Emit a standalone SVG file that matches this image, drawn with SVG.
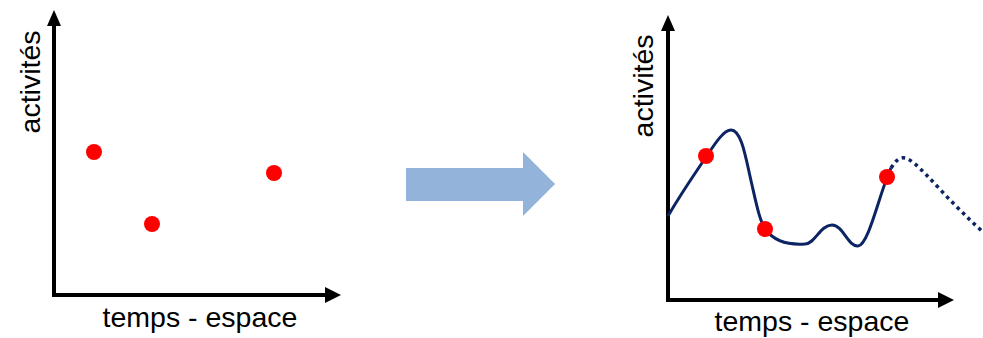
<svg xmlns="http://www.w3.org/2000/svg" width="983" height="338" viewBox="0 0 983 338">
<style>
.axis{stroke:#000;stroke-width:4;fill:none}
.head{fill:#000}
.lbl{font-family:"Liberation Sans",Arial,sans-serif;font-size:28.5px;fill:#000}
.dot{fill:#ff0000}
.curve{stroke:#0c2463;stroke-width:3;fill:none}
.dotted{stroke:#0c2463;stroke-width:3.5;fill:none;stroke-dasharray:3.5 4}
</style>
<g id="left-chart">
<polyline class="axis" points="54,24 54,295 327,295"/>
<polygon class="head" points="54,10 47,26 61,26"/>
<polygon class="head" points="341,295 325,287 325,303"/>
<text class="lbl" transform="translate(40,82) rotate(-90)" text-anchor="middle">activités</text>
<text class="lbl" x="200" y="327" text-anchor="middle">temps - espace</text>
<circle class="dot" cx="94" cy="152" r="8"/>
<circle class="dot" cx="152" cy="224" r="8"/>
<circle class="dot" cx="274" cy="173" r="8"/>
</g>
<g id="transition-arrow">
<polygon points="406,168 523,168 523,152 555,184 523,216 523,201 406,201" fill="#93B3DB"/>
</g>
<g id="right-chart">
<polyline class="axis" points="668,29 668,300 940,300"/>
<polygon class="head" points="668,15 661,31 675,31"/>
<polygon class="head" points="954,300 938,292 938,308"/>
<text class="lbl" transform="translate(653,86) rotate(-90)" text-anchor="middle">activités</text>
<text class="lbl" x="812" y="331" text-anchor="middle">temps - espace</text>
<path class="curve" d="M668,216 C682,192 696,172 706,157 C716,142 724,130 731,130 C742,130 746,160 752,185 C757,207 760,222 766,230 C775,242 790,245 805,244 C815,244 820,225 832,225 C843,225 848,247 858,246 C868,245 878,200 887,178 C889,173 890,170 891,168"/>
<path class="dotted" d="M891,168 C896,160 900,157 905,158 C915,160 935,185 955,205 C965,215 975,225 983,232"/>
<circle class="dot" cx="706" cy="156" r="8"/>
<circle class="dot" cx="765" cy="229" r="8"/>
<circle class="dot" cx="887" cy="177" r="8"/>
</g>
</svg>
